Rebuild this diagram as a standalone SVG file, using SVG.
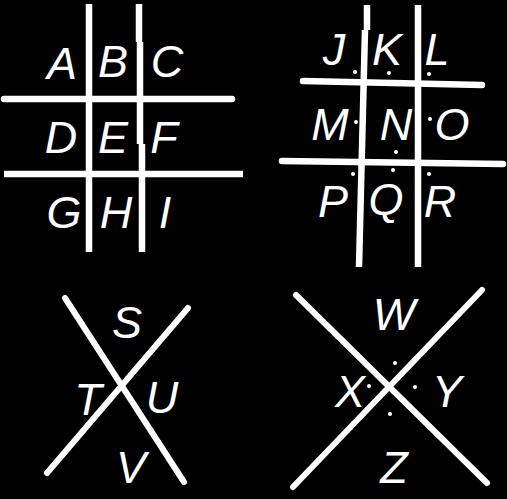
<svg xmlns="http://www.w3.org/2000/svg" width="507" height="499" viewBox="0 0 507 499">
<style>
.ln{stroke:#fff;stroke-width:6.5;fill:none}
.xl{stroke:#fff;stroke-width:6;stroke-linecap:round;fill:none}
.t{font-family:"Liberation Sans","Open Sans",sans-serif;font-style:italic;font-size:45px;fill:#fff;text-anchor:middle}
.d{fill:#fff}
</style>
<rect width="507" height="499" fill="#000"/>
<g id="grid1">
<line class="ln" x1="89" y1="4" x2="89" y2="252"/>
<path class="ln" d="M139 4 L139 42 M140 42 L140 144 M142 144 L142 252"/>
<line class="ln" x1="4" y1="99" x2="232" y2="99" style="stroke-linecap:round"/>
<line class="ln" x1="4" y1="174" x2="243" y2="174"/>
<text class="t" x="62" y="79">A</text>
<text class="t" x="113" y="77">B</text>
<text class="t" x="167" y="77">C</text>
<text class="t" x="61" y="153">D</text>
<text class="t" x="113" y="153">E</text>
<text class="t" x="164" y="153">F</text>
<text class="t" x="64" y="228">G</text>
<text class="t" x="116" y="228">H</text>
<text class="t" x="165" y="228">I</text>
</g>
<g id="grid2">
<path class="ln" d="M367 5 L367 30 M365 30 L359 267"/>
<line class="ln" x1="418" y1="5" x2="418" y2="267"/>
<line class="ln" x1="303" y1="81" x2="482" y2="85" style="stroke-linecap:round"/>
<line class="ln" x1="282" y1="161" x2="503" y2="164" style="stroke-linecap:round"/>
<text class="t" x="334" y="65">J</text>
<text class="t" x="387" y="65">K</text>
<text class="t" x="437" y="65">L</text>
<text class="t" x="330" y="140">M</text>
<text class="t" x="396" y="140">N</text>
<text class="t" x="452" y="140">O</text>
<text class="t" x="333" y="217">P</text>
<text class="t" x="386" y="215">Q</text>
<text class="t" x="440" y="217">R</text>
<circle class="d" cx="355" cy="72" r="2"/>
<circle class="d" cx="389" cy="73" r="2"/>
<circle class="d" cx="429" cy="74" r="2"/>
<circle class="d" cx="356" cy="122" r="2"/>
<circle class="d" cx="430" cy="119" r="2"/>
<circle class="d" cx="396" cy="152" r="2"/>
<circle class="d" cx="353" cy="174" r="2"/>
<circle class="d" cx="393" cy="170" r="2"/>
<circle class="d" cx="429" cy="174" r="2"/>
</g>
<g id="x1">
<line class="xl" x1="65" y1="298" x2="184" y2="482"/>
<line class="xl" x1="188" y1="308" x2="47" y2="473"/>
<text class="t" x="127" y="338">S</text>
<text class="t" x="88" y="415">T</text>
<text class="t" x="162" y="413">U</text>
<text class="t" x="131" y="483">V</text>
</g>
<g id="x2">
<line class="xl" x1="296" y1="295" x2="487" y2="483"/>
<line class="xl" x1="482" y1="290" x2="293" y2="487"/>
<text class="t" x="394" y="330">W</text>
<text class="t" x="350" y="407">X</text>
<text class="t" x="447" y="407">Y</text>
<text class="t" x="394" y="483">Z</text>
<circle class="d" cx="395" cy="363" r="2"/>
<circle class="d" cx="369" cy="386" r="2"/>
<circle class="d" cx="415" cy="387" r="2"/>
<circle class="d" cx="390" cy="414" r="2"/>
</g>
</svg>
